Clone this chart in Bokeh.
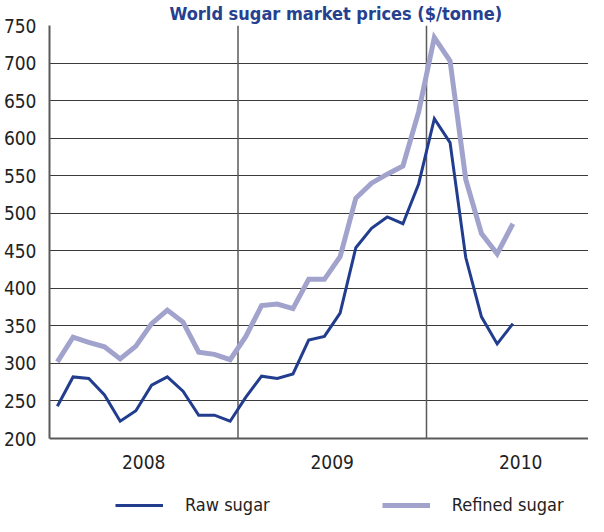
from bokeh.plotting import figure
from bokeh.models import FixedTicker, Legend, LegendItem, Title, Range1d
from bokeh.embed import file_html
from bokeh.resources import INLINE

# ---------------- data ----------------
title_text = "World sugar market prices ($/tonne)"
years = ["2008", "2009", "2010"]
months_per_year = 12
# monthly prices, Jan 2008 .. Jun 2010 ($/tonne)
raw_sugar = [243, 282, 280, 258, 223, 237, 271, 282, 263, 231, 231, 223,
             255, 283, 280, 286, 331, 336, 367, 454, 480, 495, 486, 539,
             626, 594, 441, 362, 326, 353]
refined_sugar = [302, 335, 328, 322, 306, 323, 353, 371, 355, 315, 312, 305,
                 336, 377, 379, 373, 412, 412, 442, 520, 540, 552, 563, 635,
                 734, 703, 545, 473, 446, 486]
y_ticks = [200, 250, 300, 350, 400, 450, 500, 550, 600, 650, 700, 750]
series_names = ["Raw sugar", "Refined sugar"]

# ---------------- style ----------------
FONT = "DejaVu Sans Condensed, Roboto, sans-serif"
RAW_C = "#223d8e"
REF_C = "#a2a3cd"
TITLE_C = "#25408f"

x_pos = [i + 0.5 for i in range(len(raw_sugar))]
year_bounds = [months_per_year * i for i in range(1, len(years))]
year_centers = [months_per_year * i + months_per_year / 2 for i in range(len(years))]

W, H = 588, 516
LEFT, TOP = 49, 25
AXIS_Y = 438                     # canvas pixel row of the 200 line
px_per_month = 15.708
x_end = (W - LEFT) / px_per_month
y_lo, y_hi = y_ticks[0], y_ticks[-1]
px_per_unit = (AXIS_Y - TOP) / (y_hi - y_lo)
y_start = y_lo - (H - AXIS_Y) / px_per_unit   # frame runs to canvas bottom

p = figure(width=W, height=H, output_backend="svg", toolbar_location=None,
           x_range=Range1d(0, x_end), y_range=Range1d(y_start, y_hi),
           min_border_left=LEFT, min_border_right=0, min_border_top=TOP,
           min_border_bottom=0, title=None)
p.outline_line_color = None
p.background_fill_color = "white"
p.border_fill_color = "white"

# grids
p.ygrid.ticker = FixedTicker(ticks=y_ticks)
p.ygrid.grid_line_color = "#3a3a3a"
p.ygrid.grid_line_width = 1
p.xgrid.visible = False

# year separators
p.segment(x0=year_bounds, y0=[y_lo] * len(year_bounds),
          x1=year_bounds, y1=[y_hi] * len(year_bounds),
          line_color="#5a5a5a", line_width=1.5)

# axes
for ax in (p.xaxis[0], p.yaxis[0]):
    ax.axis_line_color = "#5a5a5a"
    ax.axis_line_width = 2
    ax.major_tick_line_color = None
    ax.minor_tick_line_color = None
    ax.major_tick_out = 0
    ax.major_label_text_font = FONT
    ax.major_label_text_font_size = "19px"
    ax.major_label_text_color = "#222222"

p.xaxis.fixed_location = y_lo
p.xaxis.major_label_standoff = 16
p.xaxis.ticker = FixedTicker(ticks=year_centers)
p.xaxis.major_label_overrides = {c: y for c, y in zip(year_centers, years)}
p.yaxis.major_label_standoff = 13
p.yaxis.ticker = FixedTicker(ticks=y_ticks)
p.yaxis.bounds = (y_lo, y_hi)

# lines
r_ref = p.line(x_pos, refined_sugar, line_color=REF_C, line_width=5, line_join="miter")
r_raw = p.line(x_pos, raw_sugar, line_color=RAW_C, line_width=3, line_join="miter")

legend = Legend(items=[LegendItem(label=series_names[0], renderers=[r_raw]),
                       LegendItem(label=series_names[1], renderers=[r_ref])],
                orientation="horizontal", location=(66, 1),
                glyph_width=48, glyph_height=20, label_standoff=22, spacing=112,
                padding=0, margin=0, border_line_color=None,
                background_fill_alpha=0, label_text_font=FONT,
                label_text_font_size="18px", label_text_color="#222222")
p.add_layout(legend)

title = Title(text=title_text, align="left", offset=120, standoff=0,
              vertical_align="top",
              text_font=FONT, text_font_style="bold", text_font_size="18px",
              text_color=TITLE_C)
p.add_layout(title, "above")

open("out.html", "w").write(file_html(p, INLINE))
